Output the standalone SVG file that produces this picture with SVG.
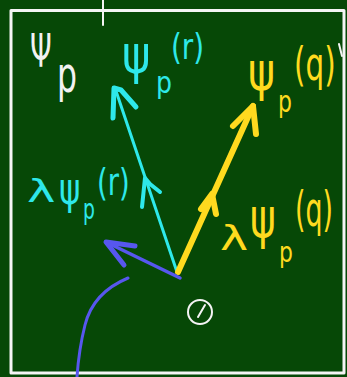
<svg xmlns="http://www.w3.org/2000/svg" width="347" height="377" viewBox="0 0 347 377">
  <style>
    .t { font-family: "DejaVu Sans", "Liberation Sans", sans-serif; }
    .w { fill: #f2f2f2; }
    .c { fill: #2ee8ea; }
    .y { fill: #ffda1f; }
    .ln { fill: none; stroke-linecap: round; stroke-linejoin: round; }
  </style>
  <rect x="0" y="0" width="347" height="377" fill="#064806"/>
  <g id="board" class="ln" stroke="#f4f4f4">
    <rect x="11" y="10.5" width="333" height="362.5" stroke-width="3"/>
    <line x1="103" y1="0" x2="103" y2="25" stroke-width="2"/>
    <line x1="339" y1="44" x2="342" y2="56" stroke-width="2"/>
  </g>
  <g id="connectors" class="ln">
    <g id="vec-r" stroke="#2ee8ea">
      <line x1="177" y1="272" x2="115" y2="88" stroke-width="3"/>
      <path d="M113,118 L114,88 L121,90 L136,107" stroke-width="5"/>
      <path d="M142,207 L145,178 L150,184 L160,192" stroke-width="4"/>
    </g>
    <g id="vec-q" stroke="#ffda1f">
      <line x1="178" y1="272" x2="253" y2="106" stroke-width="6"/>
      <path d="M233,126 L253,106 L256,134" stroke-width="6"/>
      <path d="M201,209 L212,194 L216,214" stroke-width="6"/>
    </g>
    <g id="vec-blue" stroke="#5757ee">
      <line x1="180" y1="278" x2="110" y2="244" stroke-width="3.5"/>
      <path d="M135,246 L106,242 L124,265" stroke-width="5"/>
      <path d="M128,278 C104,288 90,305 85,325 C80,345 78,362 77,377" stroke-width="3"/>
    </g>
  </g>
  <g id="label-Psi-p">
    <text class="t w" transform="translate(30,67) scale(0.6,1)" font-size="46">Ψ</text>
    <text class="t w" transform="translate(57,92) scale(0.63,1)" font-size="50">p</text>
  </g>
  <g id="label-psi-r">
    <text class="t c" transform="translate(122,73) scale(0.8,1)" font-size="54">ψ</text>
    <text class="t c" transform="translate(156,93) scale(0.84,1)" font-size="30">p</text>
    <text class="t c" transform="translate(171,59) scale(0.77,1)" font-size="36">(r)</text>
  </g>
  <g id="label-psi-q">
    <text class="t y" transform="translate(248,90) scale(0.76,1)" font-size="54">ψ</text>
    <text class="t y" transform="translate(278,112) scale(0.73,1)" font-size="30">p</text>
    <text class="t y" transform="translate(294,80) scale(0.64,1)" font-size="46">(q)</text>
  </g>
  <g id="label-lambda-psi-r">
    <text class="t c" transform="translate(27,202) scale(1.5,1)" font-size="32">λ</text>
    <text class="t c" transform="translate(59,204) scale(0.74,1)" font-size="44">ψ</text>
    <text class="t c" transform="translate(83,219) scale(0.67,1)" font-size="28">p</text>
    <text class="t c" transform="translate(97,195) scale(0.72,1)" font-size="38">(r)</text>
  </g>
  <g id="label-lambda-psi-q">
    <text class="t y" transform="translate(220,250) scale(1.4,1)" font-size="34">λ</text>
    <text class="t y" transform="translate(250,237) scale(0.7,1)" font-size="56">ψ</text>
    <text class="t y" transform="translate(279,262) scale(0.78,1)" font-size="28">p</text>
    <text class="t y" transform="translate(295,226) scale(0.56,1)" font-size="48">(q)</text>
  </g>
  <g id="origin" class="ln" stroke="#f4f4f4" stroke-width="2">
    <circle cx="200" cy="312" r="12"/>
    <line x1="198" y1="317" x2="205" y2="305"/>
  </g>
</svg>
